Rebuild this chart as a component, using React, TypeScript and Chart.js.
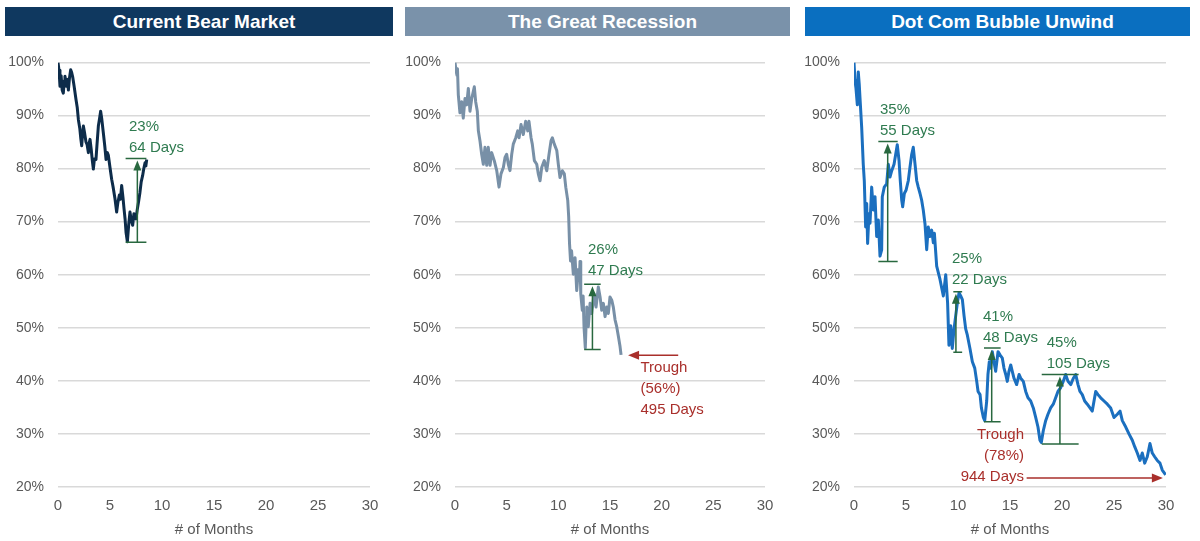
import React, { useEffect, useRef } from 'react';
import { Chart, registerables } from 'chart.js';

Chart.register(...registerables);

const FONT = "'Liberation Sans', Arial, sans-serif";
const GREEN_TEXT = '#2f7b50';
const GREEN_LINE = '#28683f';
const RED = '#a92f2b';
const AXIS_TEXT = '#595959';

const monthTicks = [0, 5, 10, 15, 20, 25, 30];
const pctTicks = [20, 30, 40, 50, 60, 70, 80, 90, 100];

// ---- Current Bear Market ----
const bearMonths = [0, 0.1, 0.19, 0.3, 0.4, 0.51, 0.6, 0.67, 0.8, 0.9, 1.0, 1.1, 1.22, 1.3, 1.41, 1.55, 1.73, 1.85, 1.96, 2.1, 2.2, 2.28, 2.36, 2.44, 2.55, 2.69, 2.8, 2.92, 3.0, 3.08, 3.2, 3.3, 3.4, 3.5, 3.65, 3.75, 3.88, 4.0, 4.1, 4.2, 4.36, 4.5, 4.62, 4.75, 4.84, 5.0, 5.16, 5.3, 5.48, 5.64, 5.75, 5.9, 6.0, 6.12, 6.25, 6.35, 6.45, 6.54, 6.67, 6.8, 6.92, 7.05, 7.18, 7.3, 7.4, 7.5, 7.63, 7.75, 7.88, 8.0, 8.14, 8.25, 8.37, 8.45, 8.53];
const bearValues = [100, 98.5, 95.5, 97.5, 94.8, 94.2, 96.5, 97.4, 95.5, 96.8, 94.8, 97, 98.6, 98.2, 97.3, 95.5, 93, 91.5, 89.2, 87.5, 85.5, 84.3, 86.5, 88, 86.8, 85, 84.5, 83, 84.8, 85.5, 83.5, 81.5, 79.9, 81.8, 81.7, 84.5, 88, 89.5, 90.8, 89.5, 86.7, 84.2, 81.7, 83, 82.5, 80.2, 78, 76.5, 74.3, 71.8, 73.5, 75, 74.2, 76.8, 74.5, 72.4, 70.5, 68, 66.2, 69.5, 71.8, 70.2, 69.3, 71.5, 71, 70.5, 72.4, 73.8, 75.5, 77.5, 78.7, 80, 81.1, 80.5, 81.7];

// ---- The Great Recession ----
const greatMonths = [0, 0.1, 0.19, 0.24, 0.32, 0.48, 0.65, 0.8, 0.97, 1.13, 1.29, 1.45, 1.62, 1.87, 2.0, 2.16, 2.26, 2.42, 2.58, 2.74, 2.9, 3.07, 3.22, 3.39, 3.55, 3.8, 4.04, 4.26, 4.45, 4.68, 4.84, 5.0, 5.16, 5.32, 5.49, 5.64, 5.88, 6.07, 6.2, 6.39, 6.61, 6.84, 7.04, 7.16, 7.36, 7.48, 7.68, 7.91, 8.06, 8.23, 8.39, 8.64, 8.88, 9.1, 9.29, 9.42, 9.61, 9.85, 10.0, 10.16, 10.39, 10.58, 10.72, 10.91, 11.0, 11.08, 11.18, 11.28, 11.45, 11.62, 11.78, 11.94, 12.03, 12.1, 12.17, 12.32, 12.4, 12.49, 12.61, 12.7, 12.75, 12.9, 13.07, 13.23, 13.46, 13.65, 13.87, 14.04, 14.2, 14.36, 14.52, 14.69, 14.84, 15.0, 15.17, 15.32, 15.49, 15.65, 15.81, 15.97, 16.07];
const greatValues = [100, 98.5, 97.6, 98.8, 93.9, 90.5, 92.6, 89.5, 93.2, 92, 95.1, 90.8, 93.2, 95.4, 92.6, 90.8, 87.1, 85.2, 82.7, 80.8, 84, 80.6, 84, 80.6, 83, 81.5, 79.6, 76.5, 79, 80.2, 82.1, 82.7, 80.8, 79.6, 82.7, 84.6, 85.8, 87.1, 85.8, 88.3, 86.4, 88.9, 87.1, 88.9, 85.8, 84.6, 81.5, 80.8, 79, 77.7, 80.2, 81.5, 79.6, 82.7, 85.2, 85.8, 84.6, 83.4, 80.8, 78.3, 79.6, 79, 76.5, 74, 71, 66, 62.6, 64.5, 60.1, 63.2, 57, 61, 58.9, 62.5, 56.4, 53.3, 56, 50, 46.2, 51.5, 53.9, 50.2, 54.6, 52.7, 56.4, 53.9, 57.7, 55.8, 53.3, 54.6, 52.1, 53.9, 52.7, 55.8, 55.2, 53.9, 51.5, 50.2, 48.4, 46.5, 44.9];

// ---- Dot Com Bubble Unwind ----
const dotMonths = [0, 0.1, 0.19, 0.32, 0.41, 0.5, 0.58, 0.74, 0.89, 0.99, 1.12, 1.22, 1.31, 1.44, 1.54, 1.7, 1.86, 2.02, 2.18, 2.34, 2.5, 2.66, 2.72, 2.91, 3.14, 3.3, 3.46, 3.63, 3.85, 4.01, 4.16, 4.33, 4.45, 4.59, 4.68, 4.84, 5.0, 5.22, 5.38, 5.55, 5.7, 5.87, 6.03, 6.18, 6.35, 6.51, 6.66, 6.83, 6.99, 7.14, 7.31, 7.47, 7.63, 7.73, 7.95, 8.27, 8.59, 8.82, 9.0, 9.13, 9.3, 9.45, 9.62, 9.78, 9.94, 10.1, 10.26, 10.42, 10.58, 10.74, 10.9, 11.15, 11.38, 11.61, 11.8, 11.93, 12.12, 12.25, 12.44, 12.57, 12.76, 12.88, 13.01, 13.14, 13.3, 13.46, 13.62, 13.85, 14.04, 14.26, 14.42, 14.59, 14.74, 14.9, 15.07, 15.22, 15.38, 15.64, 15.87, 16.03, 16.28, 16.51, 16.73, 16.99, 17.24, 17.47, 17.69, 17.88, 18.01, 18.2, 18.43, 18.65, 18.91, 19.16, 19.39, 19.61, 19.87, 20.12, 20.35, 20.58, 20.84, 21.09, 21.32, 21.54, 21.73, 21.95, 22.18, 22.43, 22.69, 22.91, 23.24, 23.46, 23.72, 24.04, 24.36, 24.68, 25.0, 25.32, 25.58, 25.8, 26.13, 26.44, 26.76, 26.99, 27.24, 27.5, 27.72, 27.95, 28.2, 28.46, 28.68, 28.91, 29.16, 29.42, 29.64, 29.97];
const dotValues = [100, 96.5, 95.1, 92, 98.2, 96, 93.2, 87.7, 80.8, 77.7, 69, 73.4, 65.9, 71.5, 69.7, 76.5, 72.2, 74.7, 67.2, 70.3, 63.5, 64.7, 74.7, 76.5, 77.1, 80.8, 78.4, 79.6, 80.8, 82.7, 84.5, 81.5, 77.7, 74, 72.8, 75.3, 75.9, 77.7, 80.2, 82.7, 84, 80.8, 77.7, 76.5, 75.3, 74, 72.2, 69.5, 64.7, 69, 67.2, 68.4, 66, 67.8, 61.6, 59.1, 56, 60, 54.7, 46.7, 50.4, 46.1, 49.8, 52.3, 54.7, 56.6, 56, 55.3, 52.3, 49.8, 48.6, 46.1, 43.6, 42.4, 39.9, 38, 37.4, 34.9, 33.1, 32.5, 36.2, 41.2, 43.6, 42.4, 45.5, 43.6, 41.8, 45.5, 44.9, 44.3, 42.4, 41.2, 39.9, 41.8, 43, 41.8, 40.5, 39.3, 41.2, 40.5, 39.9, 38, 36.8, 36.2, 34.9, 33.1, 31.3, 28.8, 28.4, 30.6, 32.5, 33.7, 34.9, 35.6, 36.8, 38, 38.7, 39.9, 41.2, 39.9, 39.3, 40.5, 41.2, 39.3, 38, 37.4, 36.2, 35.6, 34.9, 34.3, 38, 37.4, 36.8, 36.2, 35.6, 34.9, 33.1, 33.7, 34.3, 32.5, 31.3, 30, 28.8, 27.6, 26.4, 25, 26.4, 24.5, 25.7, 28.2, 26.4, 25.7, 25, 24.5, 23.2, 22.3];

type Rally = { label: string[]; tx: number; ty: number; x0: number; x1: number; xa: number; low: number; high: number };
type Trough = { label: string[]; tx: number; ty: number; align: 'left' | 'right'; from: number; to: number; ay: number };

const bearRallies: Rally[] = [
  { label: ['23%', '64 Days'], tx: 6.83, ty: 87.9, x0: 6.5, x1: 8.5, xa: 7.63, low: 66.1, high: 81.9 },
];
const greatRallies: Rally[] = [
  { label: ['26%', '47 Days'], tx: 12.87, ty: 64.6, x0: 12.5, x1: 14.1, xa: 13.3, low: 45.9, high: 58.2 },
];
const greatTroughs: Trough[] = [
  { label: ['Trough', '(56%)', '495 Days'], tx: 17.95, ty: 42.4, align: 'left', from: 21.6, to: 16.75, ay: 44.8 },
];
const dotRallies: Rally[] = [
  { label: ['35%', '55 Days'], tx: 2.5, ty: 91.0, x0: 2.34, x1: 4.2, xa: 3.24, low: 62.5, high: 85.1 },
  { label: ['25%', '22 Days'], tx: 9.42, ty: 62.9, x0: 9.55, x1: 10.4, xa: 9.8, low: 45.4, high: 56.8 },
  { label: ['41%', '48 Days'], tx: 12.4, ty: 52.1, x0: 12.5, x1: 14.1, xa: 13.24, low: 32.3, high: 46.2 },
  { label: ['45%', '105 Days'], tx: 18.53, ty: 47.1, x0: 18.05, x1: 21.6, xa: 19.8, low: 28.1, high: 41.2 },
];
const dotTroughs: Trough[] = [
  { label: ['Trough', '(78%)', '944 Days'], tx: 16.35, ty: 29.9, align: 'right', from: 16.6, to: 29.7, ay: 21.7 },
];

function annotPlugin(rallies: Rally[], troughs: Trough[]) {
  return {
    id: 'annot',
    afterDatasetsDraw(chart: any) {
      const ctx = chart.ctx;
      const px = (v: number) => chart.scales.x.getPixelForValue(v);
      const py = (v: number) => chart.scales.y.getPixelForValue(v);
      ctx.save();
      ctx.font = `15px ${FONT}`;
      ctx.textBaseline = 'middle';
      for (const r of rallies) {
        ctx.strokeStyle = GREEN_LINE;
        ctx.lineWidth = 1.5;
        ctx.beginPath();
        ctx.moveTo(px(r.x0), py(r.low));
        ctx.lineTo(px(r.x1), py(r.low));
        ctx.moveTo(px(r.x0), py(r.high));
        ctx.lineTo(px(r.x1), py(r.high));
        ctx.moveTo(px(r.xa), py(r.low));
        ctx.lineTo(px(r.xa), py(r.high) + 10);
        ctx.stroke();
        const ax = px(r.xa);
        const ay = py(r.high) + 2;
        ctx.fillStyle = GREEN_LINE;
        ctx.beginPath();
        ctx.moveTo(ax, ay);
        ctx.lineTo(ax - 4, ay + 10);
        ctx.lineTo(ax + 4, ay + 10);
        ctx.closePath();
        ctx.fill();
        ctx.fillStyle = GREEN_TEXT;
        ctx.textAlign = 'left';
        r.label.forEach((t, i) => ctx.fillText(t, px(r.tx), py(r.ty) + i * 21));
      }
      for (const t of troughs) {
        const y = py(t.ay);
        const x1 = px(t.from);
        const x2 = px(t.to);
        const dir = Math.sign(x2 - x1);
        ctx.strokeStyle = RED;
        ctx.lineWidth = 1.5;
        ctx.beginPath();
        ctx.moveTo(x1, y);
        ctx.lineTo(x2 - dir * 8, y);
        ctx.stroke();
        ctx.fillStyle = RED;
        ctx.beginPath();
        ctx.moveTo(x2, y);
        ctx.lineTo(x2 - dir * 11, y - 4.5);
        ctx.lineTo(x2 - dir * 11, y + 4.5);
        ctx.closePath();
        ctx.fill();
        ctx.textAlign = t.align;
        t.label.forEach((s, i) => ctx.fillText(s, px(t.tx), py(t.ty) + i * 21));
      }
      ctx.restore();
    },
  };
}

type PanelCfg = {
  title: string;
  barColor: string;
  lineColor: string;
  xs: number[];
  ys: number[];
  rallies: Rally[];
  troughs: Trough[];
  left: number;
  axisW: number;
  chartRight: number;
  barLeft: number;
  barWidth: number;
};

const panels: PanelCfg[] = [
  { title: 'Current Bear Market', barColor: '#0f385f', lineColor: '#0d2c4a', xs: bearMonths, ys: bearValues, rallies: bearRallies, troughs: [], left: 0, axisW: 58, chartRight: 370, barLeft: 5, barWidth: 388 },
  { title: 'The Great Recession', barColor: '#7a92aa', lineColor: '#7890a7', xs: greatMonths, ys: greatValues, rallies: greatRallies, troughs: greatTroughs, left: 398, axisW: 57, chartRight: 765, barLeft: 405, barWidth: 385 },
  { title: 'Dot Com Bubble Unwind', barColor: '#0a6fc0', lineColor: '#1b6fbf', xs: dotMonths, ys: dotValues, rallies: dotRallies, troughs: dotTroughs, left: 797, axisW: 57, chartRight: 1166, barLeft: 805, barWidth: 385 },
];

const CANVAS_TOP = 40;
const CANVAS_H = 501;

function Panel({ p }: { p: PanelCfg }) {
  const ref = useRef<HTMLCanvasElement>(null);
  const width = p.chartRight + 20 - p.left;
  useEffect(() => {
    const chart = new Chart(ref.current as HTMLCanvasElement, {
      type: 'line',
      data: {
        datasets: [
          {
            data: p.xs.map((x, i) => ({ x, y: p.ys[i] })),
            borderColor: p.lineColor,
            borderWidth: 3,
            pointRadius: 0,
            tension: 0,
            borderJoinStyle: 'round',
          },
        ],
      },
      options: {
        animation: false,
        responsive: false,
        maintainAspectRatio: false,
        layout: { padding: { top: 18, right: 20, bottom: 0, left: 0 } },
        plugins: { legend: { display: false }, tooltip: { enabled: false }, title: { display: false } },
        scales: {
          x: {
            type: 'linear',
            min: 0,
            max: 30,
            afterBuildTicks: (s: any) => {
              s.ticks = monthTicks.map((v) => ({ value: v }));
            },
            afterFit: (s: any) => {
              s.height = 54;
            },
            grid: { display: false, drawTicks: false },
            border: { display: false },
            ticks: { color: AXIS_TEXT, font: { family: FONT, size: 15 }, padding: 10, maxRotation: 0 },
            title: { display: true, text: '# of Months', color: AXIS_TEXT, font: { family: FONT, size: 15 }, padding: { top: 0, bottom: 2 } },
          },
          y: {
            type: 'linear',
            min: 20,
            max: 100,
            afterBuildTicks: (s: any) => {
              s.ticks = pctTicks.map((v) => ({ value: v }));
            },
            afterFit: (s: any) => {
              s.width = p.axisW;
            },
            grid: { color: '#d9d9d9', lineWidth: 1.5, drawTicks: false },
            border: { display: false },
            ticks: { color: AXIS_TEXT, font: { family: FONT, size: 14 }, padding: 14, callback: (v: any) => `${v}%` },
          },
        },
      } as any,
      plugins: [annotPlugin(p.rallies, p.troughs)],
    });
    return () => chart.destroy();
  }, []);
  return (
    <>
      <div
        style={{
          position: 'absolute',
          left: p.barLeft,
          top: 7,
          width: p.barWidth,
          height: 29,
          background: p.barColor,
          color: '#ffffff',
          fontFamily: FONT,
          fontWeight: 700,
          fontSize: 19,
          lineHeight: '29px',
          textAlign: 'center',
          paddingLeft: 10,
          boxSizing: 'border-box',
          whiteSpace: 'nowrap',
        }}
      >
        {p.title}
      </div>
      <canvas
        ref={ref}
        width={width}
        height={CANVAS_H}
        style={{ position: 'absolute', left: p.left, top: CANVAS_TOP, width, height: CANVAS_H }}
      />
    </>
  );
}

export default function App() {
  return (
    <div style={{ position: 'absolute', left: 0, top: 0, width: 1200, height: 541, background: '#ffffff', overflow: 'hidden' }}>
      {panels.map((p) => (
        <Panel key={p.title} p={p} />
      ))}
    </div>
  );
}
